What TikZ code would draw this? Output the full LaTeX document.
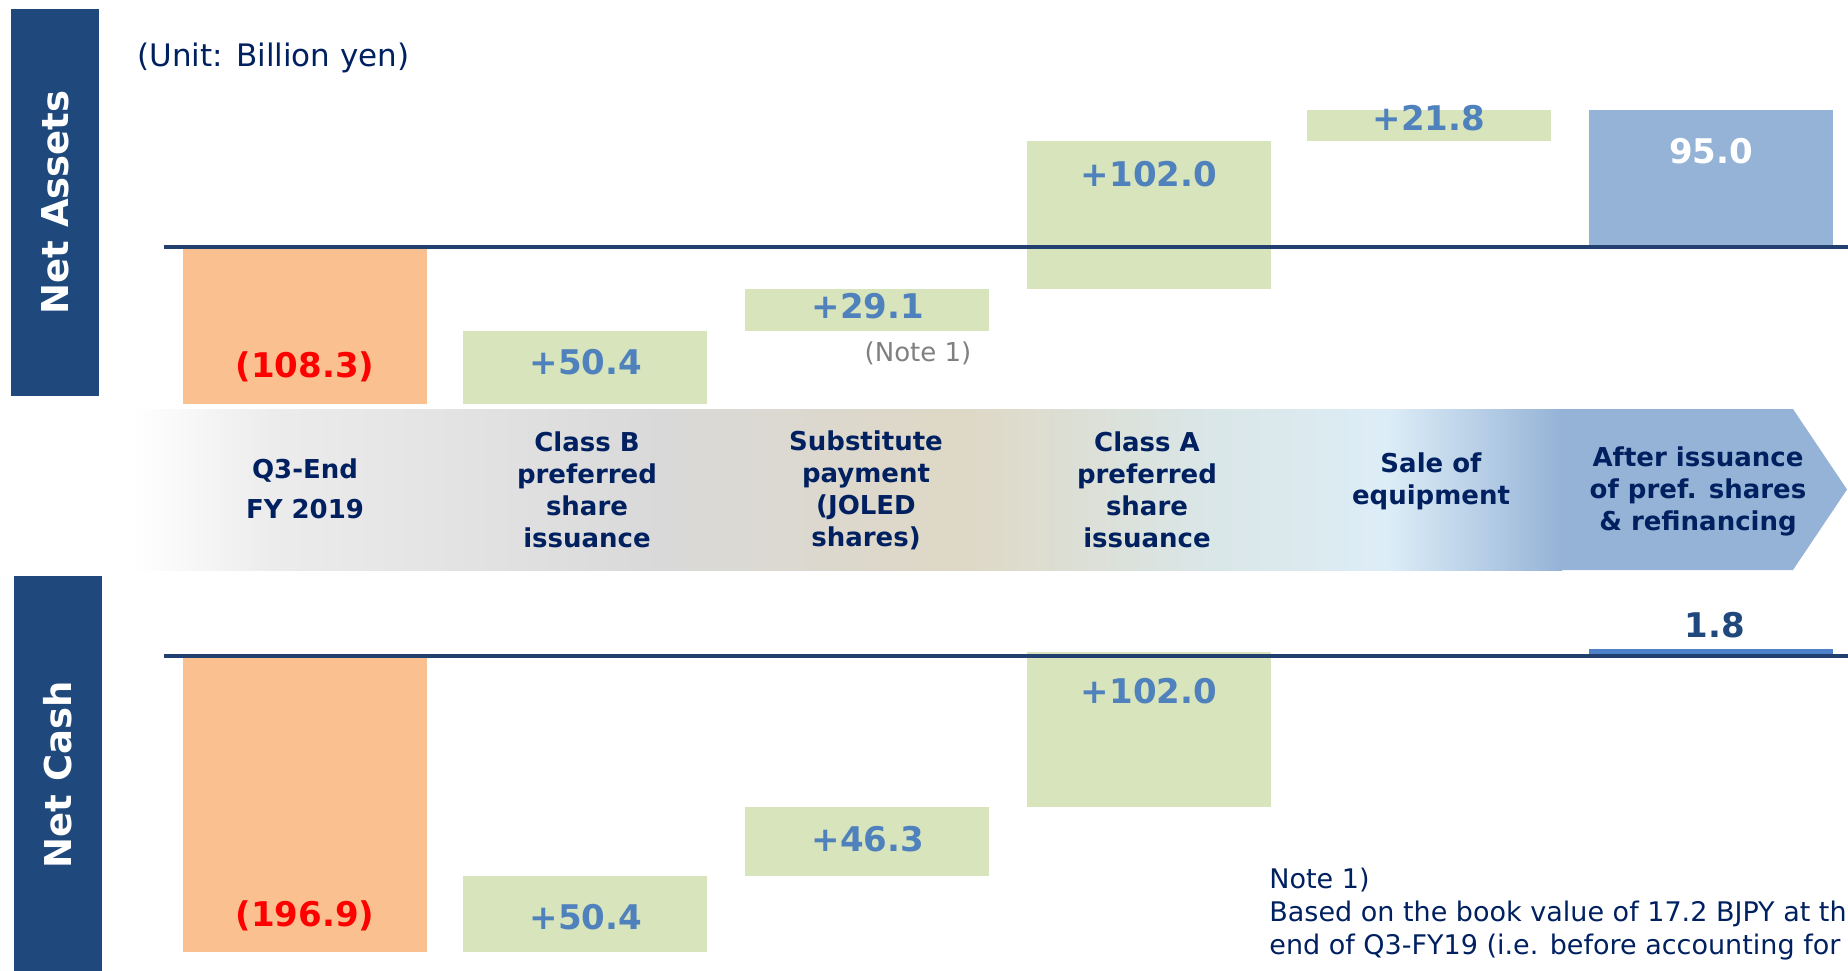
\documentclass[tikz,border=0pt]{standalone}
\usepackage{fontspec}
\setmainfont{DejaVu Sans}
\usetikzlibrary{positioning}
\definecolor{navybox}{RGB}{31,73,125}
\definecolor{axisline}{RGB}{33,64,112}
\definecolor{orangebar}{RGB}{250,192,143}
\definecolor{greenbar}{RGB}{216,228,188}
\definecolor{bluebar}{RGB}{149,179,215}
\definecolor{brightbar}{RGB}{79,129,200}
\definecolor{valblue}{RGB}{79,129,189}
\definecolor{txtnavy}{RGB}{0,32,96}
\definecolor{notegray}{RGB}{128,128,128}
\definecolor{bandA}{RGB}{236,236,236}
\definecolor{bandB}{RGB}{217,217,217}
\definecolor{bandC}{RGB}{222,216,197}
\definecolor{bandD}{RGB}{218,230,230}
\definecolor{bandE}{RGB}{221,237,247}
\tikzset{
sidebox/.style = {fill = navybox, rotate = 90, inner sep = 0pt, text = white,
   font = \fontsize{18.5}{22}\selectfont\bfseries},
unitlabel/.style = {inner sep = 0pt, text = txtnavy, font = \fontsize{15.5}{18}\selectfont},
steplabel/.style = {inner sep = 0pt, align = center, text = txtnavy,
   font = \fontsize{13}{16}\selectfont\bfseries},
value/.style = {inner sep = 0pt, text = valblue, font = \fontsize{17}{20}\selectfont\bfseries},
negvalue/.style = {value, text = red},
endvalue/.style = {value, text = white},
cashvalue/.style = {value, text = navybox},
notelabel/.style = {inner sep = 0pt, text = notegray, font = \fontsize{13}{16}\selectfont},
notetext/.style = {inner sep = 0pt, align = left, text = txtnavy,
   font = \fontsize{13.5}{16.5}\selectfont},
axis/.style = {draw = axisline, line width = 2pt}
}

\begin{document}
\begin{tikzpicture}[x = 0.5pt, y = -0.5pt]
\useasboundingbox (0,0) rectangle (1848,970);
\clip (0,0) rectangle (1848,970);

%% Side headers and unit
\node [sidebox, minimum width = 193.5pt, minimum height = 44pt] (hassets) at (55,202.5) {Net Assets};
\node [sidebox, minimum width = 199pt, minimum height = 44pt] (hcash) at (58,775) {Net Cash};
\node [unitlabel, anchor = west] (unit) at (137,58) {(Unit: Billion yen)};

%% Band of steps
\shade [left color = white, right color = bandA] (133,409) rectangle (272,570);
\shade [left color = bandA, right color = bandB] (270,409) rectangle (660,570);
\shade [left color = bandB, right color = bandC] (658,409) rectangle (960,570);
\shade [left color = bandC, right color = bandD] (958,409) rectangle (1200,570);
\shade [left color = bandD, right color = bandE] (1198,409) rectangle (1390,570);
\shade [left color = bandE, right color = bluebar] (1388,409) rectangle (1562,570);
\fill [bluebar] (1559,409) -- (1793,409) -- (1847,489.5) -- (1793,570) -- (1559,570) -- cycle;

\node [steplabel, font = \fontsize{13}{20}\selectfont\bfseries] (s1) at (305,489) {Q3-End\\FY 2019};
\node [steplabel] (s2) at (587,490) {Class B\\preferred\\share\\issuance};
\node [steplabel] (s3) at (866,490) {Substitute\\payment\\(JOLED\\shares)};
\node [steplabel] (s4) at (1147,490) {Class A\\preferred\\share\\issuance};
\node [steplabel] (s5) at (1431,481) {Sale of\\equipment};
\node [steplabel] (s6) at (1698,491) {After issuance\\of pref. shares\\\& refinancing};

%% Net assets bars
\fill [orangebar] (183,247) rectangle (427,404);
\fill [greenbar] (463,331) rectangle (707,404);
\fill [greenbar] (745,289) rectangle (989,331);
\fill [greenbar] (1027,141) rectangle (1271,289);
\fill [greenbar] (1307,110) rectangle (1551,141);
\fill [bluebar] (1589,110) rectangle (1833,247);
\draw [axis] (164,247) -- (1848,247);

\node [negvalue] (a1) at (305,367) {(108.3)};
\node [value] (a2) at (586,362) {+50.4};
\node [value] (a3) at (868,306) {+29.1};
\node [notelabel] (n1) at (918,353) {(Note 1)};
\node [value] (a4) at (1149,174) {+102.0};
\node [value] (a5) at (1429,118) {+21.8};
\node [endvalue] (a6) at (1711,151) {95.0};

%% Net cash bars
\fill [orangebar] (183,656) rectangle (427,952);
\fill [greenbar] (463,876) rectangle (707,952);
\fill [greenbar] (745,807) rectangle (989,876);
\fill [greenbar] (1027,652) rectangle (1271,807);
\fill [brightbar] (1589,649) rectangle (1833,656);
\draw [axis] (164,656) -- (1848,656);

\node [negvalue] (c1) at (305,916) {(196.9)};
\node [value] (c2) at (586,917) {+50.4};
\node [value] (c3) at (868,839) {+46.3};
\node [value] (c4) at (1149,691) {+102.0};
\node [cashvalue] (c6) at (1715,625) {1.8};

%% Note
\node [notetext, anchor = north west] (note) at (1269,868)
   {Note 1)\\Based on the book value of 17.2 BJPY at the\\end of Q3-FY19 (i.e. before accounting for};

\end{tikzpicture}
\end{document}
